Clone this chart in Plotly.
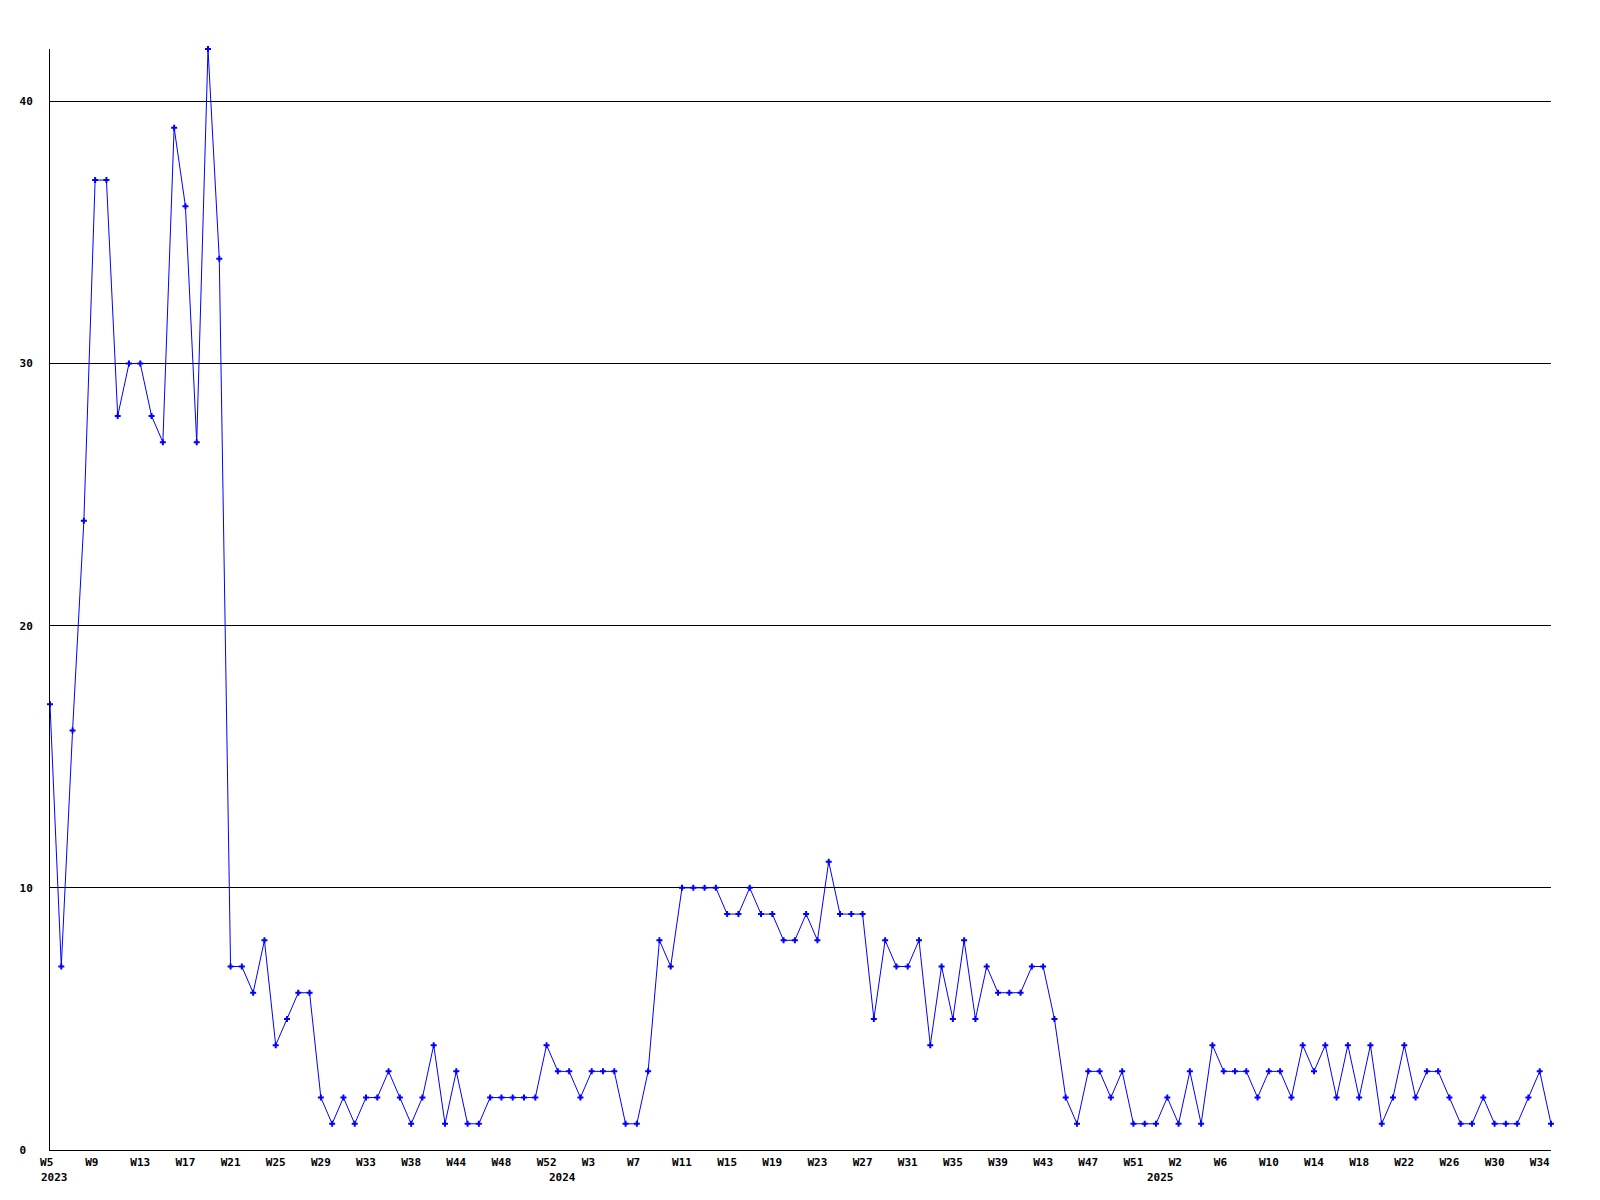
import plotly.graph_objects as go

# ---- data ----
weeks_2023 = list(range(5, 37)) + [38, 39, 41, 42] + list(range(44, 53))
weeks_2024 = list(range(0, 53))
weeks_2025 = list(range(0, 36))

values_2023 = [17, 7, 16, 24, 37, 37, 28, 30, 30, 28, 27, 39, 36, 27, 42, 34,
               7, 7, 6, 8, 4, 5, 6, 6, 2, 1, 2, 1, 2,
               2, 3, 2, 1, 2, 4, 1, 3, 1, 1, 2, 2, 2, 2, 2, 4]
values_2024 = [3, 3, 2, 3, 3, 3, 1, 1, 3, 8, 7, 10, 10, 10, 10, 9, 9, 10, 9, 9,
               8, 8, 9, 8, 11, 9, 9, 9, 5, 8, 7, 7, 8, 4, 7, 5, 8, 5, 7, 6,
               6, 6, 7, 7, 5, 2, 1, 3, 3, 2, 3, 1, 1]
values_2025 = [1, 2, 1, 3, 1, 4, 3, 3, 3, 2, 3, 3, 2, 4, 3, 4, 2, 4, 2, 4,
               1, 2, 4, 2, 3, 3, 2, 1, 1, 2, 1, 1, 1, 2, 3, 1]

years = ["2023", "2024", "2025"]
y_ticks = [0, 10, 20, 30, 40]
tick_step = 4

# ---- build ----
categories, week_labels, values = [], [], []
for yr, wks, vals in zip(years, [weeks_2023, weeks_2024, weeks_2025],
                         [values_2023, values_2024, values_2025]):
    for w, v in zip(wks, vals):
        categories.append(f"{yr}-W{w}")
        week_labels.append(f"W{w}")
        values.append(v)

first_of_year = [f"{yr}-W{wks[0]}" for yr, wks in
                 zip(years, [weeks_2023, weeks_2024, weeks_2025])]

tickvals = categories[::tick_step]
ticktext = [t if len(t) >= 3 else t + "\u00a0" for t in week_labels[::tick_step]]

FONT = dict(family="DejaVu Sans Mono", size=11, color="black")

fig = go.Figure()
fig.add_trace(go.Scatter(
    x=categories, y=values, mode="lines+markers",
    line=dict(color="#0000ff", width=1),
    marker=dict(symbol="cross", size=5, color="#0000ff", line=dict(width=0)),
    cliponaxis=False, showlegend=False,
))

for yr, cat in zip(years, first_of_year):
    fig.add_annotation(x=cat, xref="x", y=0, yref="paper", text=f"<b>{yr}</b>",
                       showarrow=False, xanchor="left", yanchor="middle",
                       xshift=-11, yshift=-27, font=FONT)

fig.update_layout(
    width=1600, height=1200,
    margin=dict(l=50, r=49, t=49, b=50),
    paper_bgcolor="white", plot_bgcolor="white",
    font=FONT,
    xaxis=dict(type="category", categoryorder="array", categoryarray=categories,
               range=[0, len(categories) - 1],
               tickmode="array", tickvals=tickvals,
               ticktext=[f"<b>{t}</b>" for t in ticktext],
               showgrid=False, zeroline=False, ticks="", tickangle=0,
               showline=True, linecolor="black", linewidth=1,
               ticklabelstandoff=2, tickfont=FONT),
    yaxis=dict(range=[0, 42], tickmode="array", tickvals=y_ticks,
               ticktext=[f"<b>{t if t >= 10 else str(t) + chr(160)}</b>" for t in y_ticks],
               showgrid=True, gridcolor="black", gridwidth=1,
               zeroline=False, ticks="", showline=True, linecolor="black",
               linewidth=1, ticklabelstandoff=14, tickfont=FONT),
)

fig.write_html("out.html", config={"displayModeBar": False},
               post_script="document.body.style.margin='0';document.body.style.overflow='hidden';")
